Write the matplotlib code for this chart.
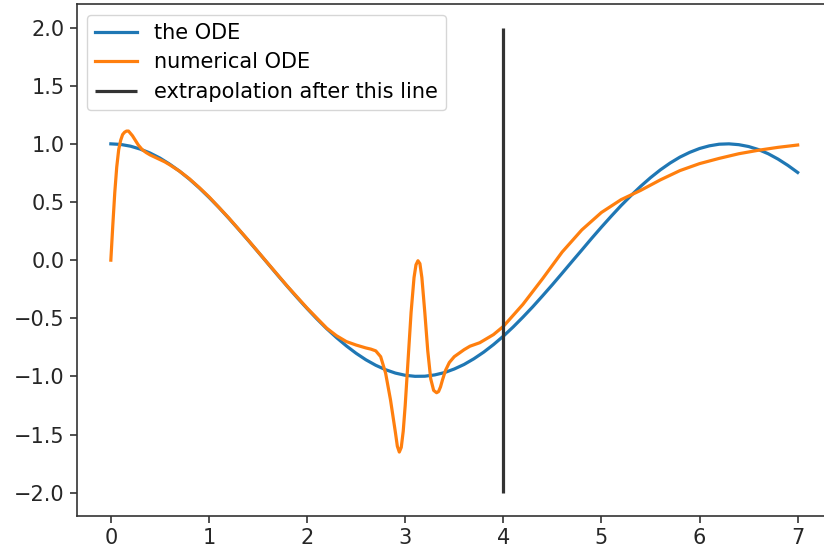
import matplotlib
matplotlib.use("Agg")
import matplotlib.pyplot as plt

# "the ODE" (exact solution)
x_exact = [0.0, 0.1, 0.2, 0.3, 0.4, 0.5, 0.6, 0.7, 0.8, 0.9,
           1.0, 1.1, 1.2, 1.3, 1.4, 1.5, 1.6, 1.7, 1.8, 1.9,
           2.0, 2.1, 2.2, 2.3, 2.4, 2.5, 2.6, 2.7, 2.8, 2.9,
           3.0, 3.1, 3.2, 3.3, 3.4, 3.5, 3.6, 3.7, 3.8, 3.9,
           4.0, 4.1, 4.2, 4.3, 4.4, 4.5, 4.6, 4.7, 4.8, 4.9,
           5.0, 5.1, 5.2, 5.3, 5.4, 5.5, 5.6, 5.7, 5.8, 5.9,
           6.0, 6.1, 6.2, 6.3, 6.4, 6.5, 6.6, 6.7, 6.8, 6.9, 7.0]
y_exact = [1.000, 0.995, 0.980, 0.955, 0.921, 0.878, 0.825, 0.765, 0.697, 0.622,
           0.540, 0.454, 0.362, 0.267, 0.170, 0.071, -0.029, -0.129, -0.227, -0.323,
           -0.416, -0.505, -0.589, -0.666, -0.737, -0.801, -0.857, -0.904, -0.942, -0.971,
           -0.990, -0.999, -0.998, -0.987, -0.967, -0.936, -0.897, -0.848, -0.791, -0.726,
           -0.654, -0.575, -0.490, -0.401, -0.307, -0.211, -0.112, -0.012, 0.087, 0.187,
           0.284, 0.378, 0.469, 0.554, 0.635, 0.709, 0.776, 0.835, 0.886, 0.927,
           0.960, 0.983, 0.997, 1.000, 0.993, 0.977, 0.951, 0.915, 0.869, 0.815, 0.754]

# "numerical ODE"
x_num = [0.0, 0.02, 0.04, 0.06, 0.08, 0.10, 0.12, 0.14, 0.16, 0.18, 0.20, 0.22,
         0.25, 0.28, 0.32, 0.36, 0.40, 0.45, 0.50, 0.55, 0.60, 0.70, 0.80, 0.90,
         1.0, 1.2, 1.4, 1.6, 1.8, 2.0, 2.2, 2.3, 2.4, 2.5, 2.6, 2.65, 2.7, 2.75,
         2.8, 2.85, 2.9, 2.92, 2.94, 2.96, 2.98, 3.0, 3.03, 3.06, 3.09, 3.11, 3.13,
         3.15, 3.17, 3.2, 3.23, 3.26, 3.29, 3.32, 3.34, 3.36, 3.38, 3.41, 3.45,
         3.5, 3.55, 3.6, 3.66, 3.76, 3.9, 4.0, 4.2, 4.4, 4.6, 4.8, 5.0, 5.2, 5.4,
         5.6, 5.8, 6.0, 6.2, 6.4, 6.6, 6.8, 7.0]
y_num = [0.0, 0.30, 0.58, 0.80, 0.95, 1.03, 1.08, 1.10, 1.11, 1.11, 1.09, 1.07,
         1.03, 0.99, 0.95, 0.925, 0.905, 0.885, 0.865, 0.845, 0.82, 0.765, 0.70, 0.625,
         0.545, 0.365, 0.172, -0.027, -0.225, -0.412, -0.585, -0.65, -0.70, -0.73, -0.755, -0.765, -0.78, -0.83,
         -0.97, -1.20, -1.48, -1.60, -1.65, -1.61, -1.47, -1.25, -0.85, -0.45, -0.15, -0.04, -0.005,
         -0.03, -0.15, -0.45, -0.78, -1.02, -1.12, -1.14, -1.13, -1.09, -1.03, -0.95, -0.88,
         -0.83, -0.80, -0.77, -0.74, -0.71, -0.64, -0.57, -0.38, -0.16, 0.07, 0.26, 0.41, 0.52, 0.60,
         0.69, 0.77, 0.83, 0.875, 0.915, 0.945, 0.97, 0.99]

x_line = 4
y_line_range = [-2, 2]

labels = ["the ODE", "numerical ODE", "extrapolation after this line"]

fig = plt.figure(figsize=(8.24, 5.51), dpi=100)
ax = fig.add_axes([76.5 / 824, 35 / 551, (832 - 76.5) / 824, (516 - 4.3) / 551])

ax.plot(x_exact, y_exact, color="#1f77b4", lw=2.3, label=labels[0])
ax.plot(x_num, y_num, color="#ff7f0e", lw=2.3, label=labels[1])
ax.vlines(x_line, y_line_range[0], y_line_range[1], colors="#333333", lw=2.3, label=labels[2])

ax.set_xlim(-0.35, 7.35)
ax.set_ylim(-2.2, 2.2)
ax.set_xticks([0, 1, 2, 3, 4, 5, 6, 7])
ax.set_yticks([-2.0, -1.5, -1.0, -0.5, 0.0, 0.5, 1.0, 1.5, 2.0])
ax.set_yticklabels(["−2.0", "−1.5", "−1.0", "−0.5", "0.0", "0.5", "1.0", "1.5", "2.0"])
ax.tick_params(labelsize=15, length=5, width=1.2, colors="#333333", labelcolor="#262626")
for s in ax.spines.values():
    s.set_linewidth(1.2)
    s.set_color("#333333")

ax.legend(loc="upper left", fontsize=15, frameon=True, handlelength=2.0,
          borderaxespad=0.5, labelspacing=0.45)

fig.savefig("out.png", dpi=100)
